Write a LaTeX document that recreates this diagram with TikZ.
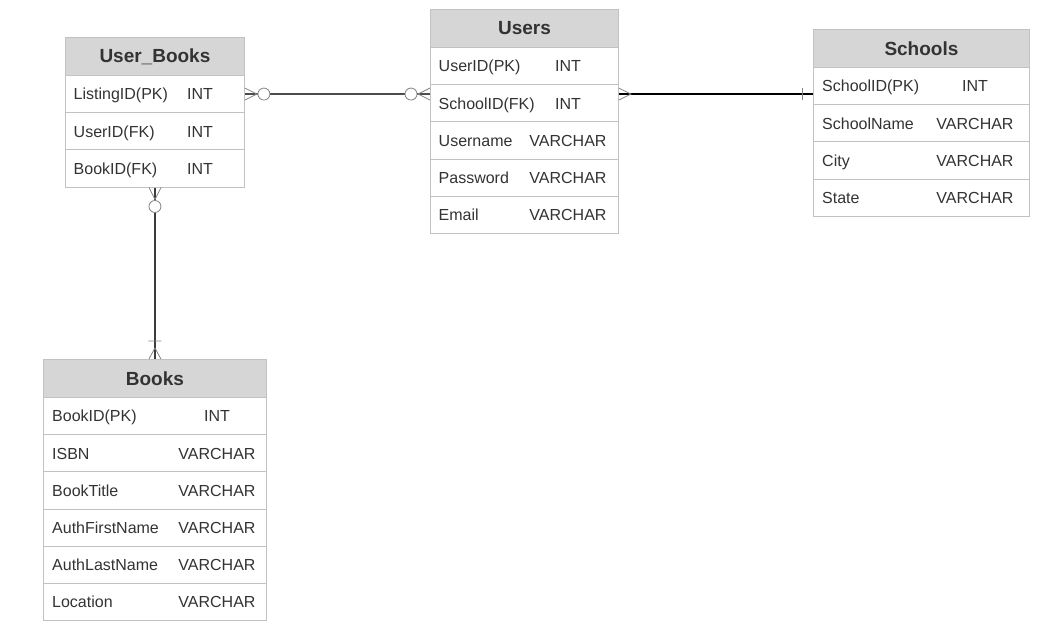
\documentclass[tikz,border=0pt]{standalone}
\usepackage{fontspec}
\setmainfont{Liberation Sans}
\usetikzlibrary{positioning,calc}
\definecolor{erText}{HTML}{333333}
\definecolor{erHead}{HTML}{D6D6D6}
\definecolor{erBorder}{HTML}{C2C2C2}
\definecolor{erLine}{HTML}{3C3C3C}
\definecolor{erMark}{HTML}{858585}

\tikzset{
  tblhead/.style={draw=erBorder, line width=0.9pt, fill=erHead, minimum height=38,
    inner sep=0pt, anchor=north west, text=erText, font=\fontsize{19}{19}\selectfont\bfseries},
  tblrow/.style={draw=erBorder, line width=0.9pt, fill=white, minimum height=37.2,
    inner sep=0pt, anchor=north west},
  fieldtxt/.style={anchor=west, inner sep=0pt, text height=11.5, text depth=0pt,
    text=erText, font=\fontsize{16}{16}\selectfont},
  typetxt/.style={fieldtxt, anchor=center},
  rel/.style={draw=erLine, line width=1.5pt},
  cardmark/.style={draw=erMark, line width=0.8pt},
  % cardinality ends, drawn from the table edge outwards
  zeromany/.pic={\draw[cardmark] (0,-6) -- (12,0) -- (0,6);
    \draw[cardmark, fill=white] (19,0) circle [radius=6];},
  crowmany/.pic={\draw[cardmark] (0,-6) -- (12,0) -- (0,6);},
  onebar/.pic={\draw[cardmark] (11,-6) -- (11,6);},
  onemany/.pic={\draw[cardmark] (0,-6) -- (11,0) -- (0,6) (18,-6.5) -- (18,6.5);}
}

\begin{document}
\begin{tikzpicture}[x=1pt, y=-1pt]
  \useasboundingbox (0,0) rectangle (1039,629);

  % User_Books table
  \def\userBooksRows{ListingID(PK)/INT, UserID(FK)/INT, BookID(FK)/INT}
  \node[tblhead, minimum width=179] (ub-h) at (65,37) {User\_Books};
  \foreach \fname/\ftype [count=\ni] in \userBooksRows
  {
    \node[tblrow, minimum width=179] (ub-r\ni) at (65,{75+37.2*(\ni-1)}) {};
    \node[fieldtxt] (ub-n\ni) at ([xshift=8.5]ub-r\ni.west) {\fname};
    \node[typetxt] (ub-t\ni) at ([xshift=135]ub-r\ni.west) {\ftype};
  }

  % Users table
  \def\usersRows{UserID(PK)/INT, SchoolID(FK)/INT, Username/VARCHAR,
    Password/VARCHAR, Email/VARCHAR}
  \node[tblhead, minimum width=188] (us-h) at (430,9) {Users};
  \foreach \fname/\ftype [count=\ni] in \usersRows
  {
    \node[tblrow, minimum width=188] (us-r\ni) at (430,{47+37.2*(\ni-1)}) {};
    \node[fieldtxt] (us-n\ni) at ([xshift=8.5]us-r\ni.west) {\fname};
    \node[typetxt] (us-t\ni) at ([xshift=138]us-r\ni.west) {\ftype};
  }

  % Schools table
  \def\schoolsRows{SchoolID(PK)/INT, SchoolName/VARCHAR, City/VARCHAR, State/VARCHAR}
  \node[tblhead, minimum width=216] (sc-h) at (813,29) {Schools};
  \foreach \fname/\ftype [count=\ni] in \schoolsRows
  {
    \node[tblrow, minimum width=216] (sc-r\ni) at (813,{67+37.2*(\ni-1)}) {};
    \node[fieldtxt] (sc-n\ni) at ([xshift=9]sc-r\ni.west) {\fname};
    \node[typetxt] (sc-t\ni) at ([xshift=162]sc-r\ni.west) {\ftype};
  }

  % Books table
  \def\booksRows{BookID(PK)/INT, ISBN/VARCHAR, BookTitle/VARCHAR,
    AuthFirstName/VARCHAR, AuthLastName/VARCHAR, Location/VARCHAR}
  \node[tblhead, minimum width=223] (bk-h) at (43,359) {Books};
  \foreach \fname/\ftype [count=\ni] in \booksRows
  {
    \node[tblrow, minimum width=223] (bk-r\ni) at (43,{397+37.2*(\ni-1)}) {};
    \node[fieldtxt] (bk-n\ni) at ([xshift=9]bk-r\ni.west) {\fname};
    \node[typetxt] (bk-t\ni) at ([xshift=174]bk-r\ni.west) {\ftype};
  }

  % relationships
  \coordinate (usIn) at (ub-r1.east -| us-r2.west);
  \coordinate (usOut) at (ub-r1.east -| us-r2.east);
  \coordinate (scIn) at (ub-r1.east -| sc-r1.west);
  \draw[rel, draw=black!70] (ub-r1.east) -- (usIn);
  \draw[rel, draw=black, line width=1.3pt] (usOut) -- (scIn);
  \draw[rel] (ub-r3.south) -- (bk-h.north);

  % cardinality marks
  \pic at (ub-r1.east) {zeromany};
  \pic[rotate=180] at (usIn) {zeromany};
  \pic at (usOut) {crowmany};
  \pic[rotate=180] at (scIn) {onebar};
  \pic[rotate=-90] at (ub-r3.south) {zeromany};
  \pic[rotate=90] at (bk-h.north) {onemany};
\end{tikzpicture}
\end{document}
